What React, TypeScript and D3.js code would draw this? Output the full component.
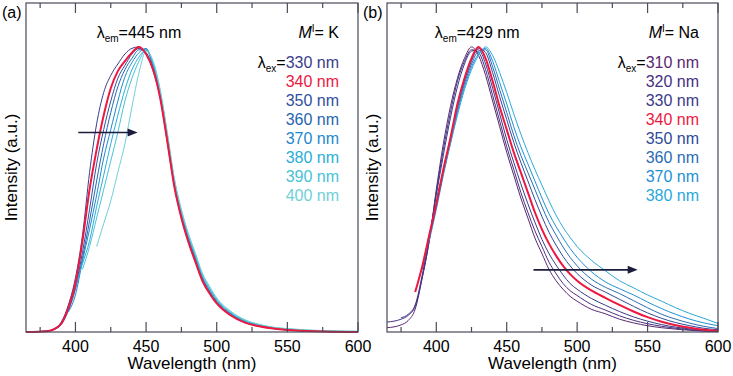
import * as d3 from "d3";

// shared wavelength grids (nm)
const WL_A = [365, 380, 385, 390, 395, 400, 405, 410, 415, 420, 425, 430, 435, 440, 445, 450, 455, 460, 465, 470, 475, 480, 485, 490, 495, 500, 510, 520, 530, 540, 550, 575, 600];
const WL_B = [365, 370, 375, 380, 385, 390, 395, 400, 405, 410, 415, 420, 425, 430, 435, 440, 445, 450, 455, 460, 465, 470, 475, 480, 485, 490, 495, 500, 510, 520, 530, 540, 550, 560, 570, 580, 590, 600];

// (a) M = K, excitation wavelengths and normalised spectra
const EX_A = [330, 340, 350, 360, 370, 380, 390, 400];
const K330 = [0, .004, .012, .035, .095, .19, .34, .56, .73, .84, .9, .94, .975, .995, 1.0, .975, .915, .82, .665, .51, .4, .315, .245, .178, .135, .1, .058, .033, .02, .012, .007, .002, 0];
const K340 = [0, .003, .01, .03, .085, .17, .32, .5, .64, .76, .855, .915, .95, .98, 1.0, .975, .92, .82, .67, .51, .4, .315, .245, .178, .135, .1, .058, .033, .02, .012, .007, .002, 0];
const K350 = [0, .003, .01, .028, .08, .16, .28, .43, .59, .71, .81, .89, .935, .975, .995, .98, .925, .825, .675, .515, .405, .32, .25, .182, .138, .102, .06, .034, .021, .013, .008, .002, 0];
const K360 = [0, .003, .009, .026, .075, .15, .26, .39, .53, .66, .77, .86, .92, .96, .99, .99, .93, .83, .68, .52, .41, .325, .255, .186, .141, .105, .062, .035, .022, .013, .008, .003, 0];
const K370 = [null, null, null, null, .07, .13, .25, .36, .48, .61, .71, .81, .895, .945, .98, .995, .935, .835, .685, .525, .415, .33, .26, .19, .145, .108, .064, .037, .023, .014, .009, .003, .001];
const K380 = [null, null, null, null, null, .16, .24, .32, .44, .55, .66, .76, .85, .92, .965, .99, .94, .84, .69, .53, .42, .335, .265, .195, .15, .112, .067, .039, .025, .015, .01, .003, .001];
const K390 = [null, null, null, null, null, null, .22, .3, .4, .5, .6, .7, .81, .89, .95, .99, .945, .845, .695, .535, .425, .34, .27, .2, .155, .116, .07, .041, .026, .016, .011, .004, .002];
const K400 = [null, null, null, null, null, null, null, null, .3, .38, .46, .56, .66, .79, .91, .985, .95, .85, .7, .54, .43, .345, .275, .205, .16, .12, .073, .043, .027, .017, .012, .005, .003];
const COLORS_A = ["#3a3d8a", "#ee1740", "#2f4f9e", "#2565b0", "#1f88cc", "#2aaed6", "#48c2d6", "#6fd0d8"];

// (b) M = Na
const EX_B = [310, 320, 330, 340, 350, 360, 370, 380];
const N310 = [.015, .018, .025, .04, .08, .19, .32, .5, .66, .79, .89, .96, 1.0, .97, .9, .81, .72, .63, .55, .47, .4, .33, .275, .22, .18, .15, .125, .108, .08, .064, .045, .032, .022, .015, .01, .006, .003, .001];
const N320 = [.035, .038, .045, .058, .09, .19, .32, .49, .64, .77, .88, .95, .99, .98, .92, .83, .74, .65, .57, .49, .42, .355, .3, .245, .205, .17, .145, .128, .097, .077, .057, .041, .029, .02, .013, .008, .004, .002];
const N330 = [null, null, .05, .062, .095, .2, .33, .48, .62, .75, .86, .94, .985, .99, .94, .855, .765, .675, .595, .52, .45, .385, .325, .275, .235, .2, .17, .15, .118, .094, .072, .053, .038, .026, .017, .011, .006, .003];
const N340 = [null, null, null, null, .14, .23, .34, .45, .57, .68, .8, .89, .96, 1.0, .96, .88, .79, .71, .63, .56, .49, .42, .36, .31, .268, .232, .203, .18, .146, .12, .095, .072, .052, .036, .024, .015, .008, .004];
const N350 = [null, null, null, null, null, .22, .34, .45, .57, .68, .79, .88, .95, .995, .98, .91, .825, .745, .665, .595, .53, .465, .405, .35, .305, .265, .232, .205, .165, .14, .115, .09, .067, .048, .033, .022, .013, .008];
const N360 = [null, null, null, null, null, .22, .33, .44, .56, .67, .78, .87, .94, .985, .99, .93, .85, .77, .69, .62, .56, .5, .44, .385, .34, .298, .262, .232, .186, .157, .135, .11, .085, .062, .045, .031, .02, .012];
const N370 = [null, null, null, null, null, null, .32, .43, .55, .66, .77, .86, .93, .975, .995, .95, .875, .8, .72, .65, .59, .53, .47, .415, .37, .33, .293, .262, .212, .176, .152, .13, .105, .082, .062, .045, .032, .022];
const N380 = [null, null, null, null, null, null, null, .47, .56, .66, .76, .85, .92, .97, 1.0, .97, .91, .84, .765, .695, .63, .57, .515, .46, .41, .367, .332, .3, .252, .215, .18, .155, .13, .108, .085, .065, .048, .03];
const COLORS_B = ["#5a2870", "#48307f", "#3a3a88", "#ee1740", "#2f4a98", "#2a6cb4", "#1e90d4", "#2aa8dc"];

const X_MAJOR = [400, 450, 500, 550, 600];
const X_MINOR = [375, 425, 475, 525, 575];

const FONT = "'Liberation Sans', Arial, Helvetica, sans-serif";
const TOP = 3;
const BOTTOM = 332;

type PanelProps = {
  tag: string;
  left: number;
  right: number;
  wl: number[];
  ex: number[];
  curves: (number | null)[][];
  colors: string[];
  peak: number;
  metal: string;
  arrow: [number, number, number];
};

function Panel({ tag, left, right, wl, ex, curves, colors, peak, metal, arrow }: PanelProps) {
  const x = d3.scaleLinear().domain([365, 600]).range([left, right]);
  const y = d3.scaleLinear().domain([0, 1.154]).range([BOTTOM, TOP]);
  const line = d3
    .line<[number, number | null]>()
    .defined((d) => d[1] != null)
    .x((d) => x(d[0]))
    .y((d) => y(d[1] as number))
    .curve(d3.curveMonotoneX);

  // red 340 nm trace goes on top
  const order = ex.map((_, i) => i).sort((a, b) => (ex[a] === 340 ? 1 : 0) - (ex[b] === 340 ? 1 : 0));
  const lx = right - 19;
  const ax0 = x(arrow[0]);
  const ax1 = x(arrow[1]);
  const ay = y(arrow[2]);

  return (
    <g fontFamily={FONT}>
      <text x={left - 24} y={18} fontSize={16}>{tag}</text>
      {order.map((i) => (
        <path
          key={ex[i]}
          d={line(wl.map((w, j) => [w, curves[i][j]])) || ""}
          fill="none"
          stroke={colors[i]}
          strokeWidth={ex[i] === 340 ? 2 : 1}
        />
      ))}
      <rect x={left} y={TOP} width={right - left} height={BOTTOM - TOP} fill="none" stroke="#4a4a5a" strokeWidth={1.2} />
      {X_MAJOR.map((t) => (
        <g key={t}>
          <line x1={x(t)} x2={x(t)} y1={BOTTOM} y2={BOTTOM - 10} stroke="#4a4a5a" strokeWidth={1.2} />
          <line x1={x(t)} x2={x(t)} y1={TOP} y2={TOP + 10} stroke="#4a4a5a" strokeWidth={1.2} />
          <text x={x(t)} y={352} fontSize={16} textAnchor="middle">{t}</text>
        </g>
      ))}
      {X_MINOR.map((t) => (
        <g key={t}>
          <line x1={x(t)} x2={x(t)} y1={BOTTOM} y2={BOTTOM - 5} stroke="#4a4a5a" strokeWidth={1.2} />
          <line x1={x(t)} x2={x(t)} y1={TOP} y2={TOP + 5} stroke="#4a4a5a" strokeWidth={1.2} />
        </g>
      ))}
      <text x={(left + right) / 2} y={369} fontSize={17} textAnchor="middle">Wavelength (nm)</text>
      <text transform={`translate(${left - 9},${(TOP + BOTTOM) / 2}) rotate(-90)`} fontSize={17} textAnchor="middle">
        Intensity (a.u.)
      </text>
      <text x={x(peak)} y={38} fontSize={16} textAnchor="middle">
        λ<tspan fontSize={10} dy={4}>em</tspan>
        <tspan dy={-4}>={peak} nm</tspan>
      </text>
      <text x={lx} y={38} fontSize={16} textAnchor="end">
        <tspan fontStyle="italic">M</tspan>
        <tspan fontSize={10} dy={-6}>I</tspan>
        <tspan dy={6}>= {metal}</tspan>
      </text>
      {ex.map((e, i) => (
        <text key={e} x={lx} y={68 + i * 19} fontSize={16} textAnchor="end">
          {i === 0 ? (
            <>
              <tspan>λ</tspan>
              <tspan fontSize={10} dy={4}>ex</tspan>
              <tspan dy={-4}>=</tspan>
            </>
          ) : null}
          <tspan fill={colors[i]}>{e} nm</tspan>
        </text>
      ))}
      <line x1={ax0} x2={ax1 - 8} y1={ay} y2={ay} stroke="#1c1c3c" strokeWidth={1.6} />
      <path d={`M${ax1},${ay}L${ax1 - 10},${ay - 4}L${ax1 - 10},${ay + 4}Z`} fill="#1c1c3c" />
    </g>
  );
}

export default function App() {
  return (
    <svg width={733} height={376} style={{ position: "absolute", left: 0, top: 0, background: "#fff" }}>
      <Panel
        tag="(a)"
        left={26}
        right={358}
        wl={WL_A}
        ex={EX_A}
        curves={[K330, K340, K350, K360, K370, K380, K390, K400]}
        colors={COLORS_A}
        peak={445}
        metal="K"
        arrow={[402, 444, 0.7]}
      />
      <Panel
        tag="(b)"
        left={387}
        right={718}
        wl={WL_B}
        ex={EX_B}
        curves={[N310, N320, N330, N340, N350, N360, N370, N380]}
        colors={COLORS_B}
        peak={429}
        metal="Na"
        arrow={[469, 543, 0.218]}
      />
    </svg>
  );
}
